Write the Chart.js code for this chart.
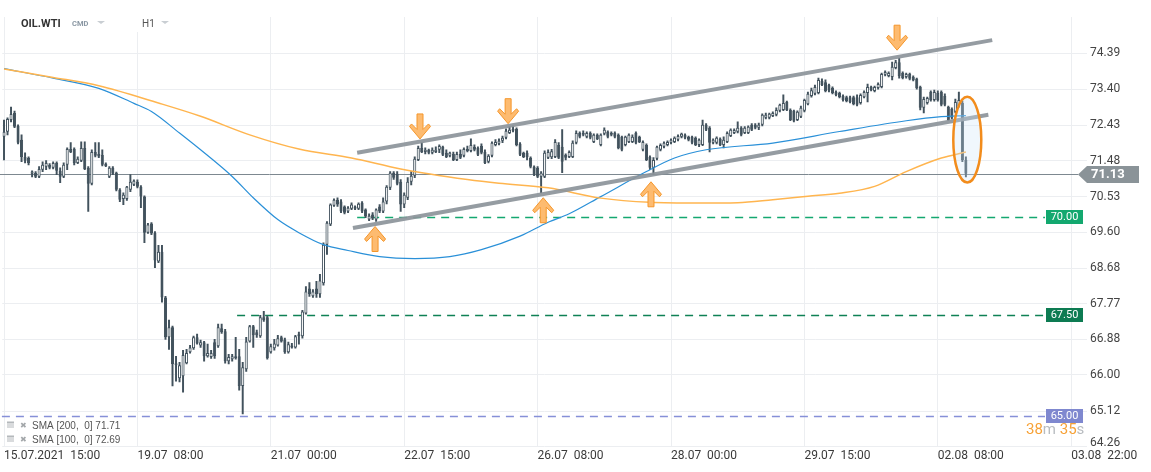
<!DOCTYPE html>
<html>
<head>
<meta charset="utf-8">
<script src="https://cdn.jsdelivr.net/npm/chart.js"></script>
<style>
  html, body { margin: 0; padding: 0; background: #fff; }
  #wrap { width: 1151px; height: 472px; }
</style>
</head>
<body>
<div id="wrap"><canvas id="oilChart" width="1151" height="472"></canvas></div>
<script>
// OIL.WTI, H1 candles from 15.07.2021 15:00 to 02.08.2021
var opens = [
  72.12,72.25,72.57,72.76,72.41,72.04,71.58,71.56,71.13,71.16,
  71.05,71.24,71.32,71.37,71.29,71.42,71.21,71.05,71.37,71.79,
  71.79,71.42,71.48,71.82,71.29,70.87,71.71,71.66,71.63,71.40,
  71.05,71.29,71.16,70.71,70.47,70.47,70.71,70.84,70.92,70.79,
  70.53,69.59,69.83,69.59,68.85,69.10,67.93,66.93,67.18,66.29,
  65.92,65.97,66.29,66.56,66.66,66.93,66.73,66.81,66.46,66.44,
  66.81,66.71,67.16,67.08,66.34,66.39,66.41,66.46,65.73,66.14,
  66.83,67.21,67.06,66.96,67.43,67.43,66.56,66.66,66.73,66.93,
  66.88,66.56,66.68,66.68,66.96,66.96,67.53,68.16,67.96,68.16,
  68.01,68.29,69.28,69.80,70.29,70.45,70.40,70.27,70.14,70.21,
  70.27,70.21,70.37,70.19,69.93,70.06,69.93,70.27,70.14,70.40,
  70.76,71.16,71.13,70.92,70.32,70.50,70.92,71.08,71.50,71.82,
  71.71,71.77,71.69,71.71,71.77,71.85,71.69,71.61,71.66,71.50,
  71.66,71.61,71.79,71.74,71.85,71.82,71.87,71.71,71.45,71.61,
  71.90,71.93,72.01,72.09,72.22,72.28,72.33,71.93,71.69,71.69,
  71.56,71.32,71.29,71.05,71.05,71.56,71.57,71.58,71.90,71.85,
  71.64,71.58,71.58,71.96,72.22,72.17,72.12,72.22,71.98,72.17,
  71.90,72.20,72.25,72.17,72.22,72.17,72.12,71.90,71.98,71.98,
  72.22,72.12,71.77,71.90,71.58,71.29,71.53,71.77,71.85,71.90,
  71.96,71.98,72.04,72.12,72.17,72.12,72.12,72.09,71.90,71.90,
  72.44,72.36,71.96,71.96,72.06,71.90,71.98,72.14,72.22,72.25,
  72.36,72.22,72.22,72.44,72.44,72.36,72.44,72.63,72.63,72.68,
  72.71,72.82,72.84,73.06,72.84,72.82,72.57,72.66,72.82,73.00,
  73.22,73.28,73.30,73.63,73.60,73.53,73.44,73.33,73.30,73.22,
  73.19,73.19,73.19,73.19,73.03,73.19,73.30,73.47,73.36,73.44,
  73.47,73.80,73.77,73.74,73.99,74.15,73.85,73.74,73.82,73.74,
  73.69,73.47,72.90,73.03,73.33,73.11,73.30,73.33,73.22,72.92,
  72.87,72.79,72.95,73.03,71.50
];
var highs = [
  72.57,72.63,72.92,72.81,72.44,72.17,71.69,71.58,71.21,71.19,
  71.32,71.45,71.48,71.40,71.45,71.45,71.29,71.42,71.82,71.96,
  71.82,71.58,71.98,71.98,71.32,71.77,71.96,71.96,71.77,71.42,
  71.32,71.32,71.18,70.74,70.63,70.80,71.11,70.97,70.97,70.82,
  70.55,69.83,69.85,69.62,69.26,69.26,67.96,67.36,67.21,66.46,
  66.31,66.61,66.63,66.73,66.96,67.01,66.86,66.83,66.76,66.61,
  66.88,67.26,67.26,67.13,66.51,66.51,66.93,66.63,66.31,66.93,
  67.23,67.23,67.11,67.48,67.58,67.46,66.76,66.88,66.98,66.96,
  66.91,66.81,66.78,66.98,67.06,67.61,68.21,68.31,68.13,68.34,
  68.52,69.33,69.88,70.34,70.47,70.50,70.45,70.29,70.27,70.37,
  70.29,70.37,70.40,70.21,70.08,70.11,70.21,70.32,70.50,70.82,
  71.19,71.19,71.19,70.98,70.63,71.03,71.19,71.58,71.87,71.96,
  71.82,71.79,71.82,71.85,71.90,71.87,71.77,71.71,71.71,71.71,
  71.77,71.82,71.87,72.06,71.90,71.85,71.93,71.77,71.64,71.98,
  72.04,72.06,72.14,72.33,72.39,72.41,72.36,71.96,71.71,71.74,
  71.58,71.34,71.32,71.19,71.74,71.77,71.78,72.04,71.96,72.31,
  71.66,71.74,72.01,72.28,72.25,72.28,72.25,72.25,72.20,72.20,
  72.20,72.36,72.28,72.25,72.25,72.20,72.14,72.14,72.20,72.17,
  72.25,72.14,72.01,71.93,71.61,71.56,71.87,71.93,71.98,72.01,
  72.06,72.12,72.17,72.22,72.20,72.14,72.14,72.12,72.06,72.57,
  72.47,72.39,72.06,72.12,72.09,72.12,72.25,72.33,72.33,72.52,
  72.39,72.39,72.41,72.47,72.47,72.49,72.74,72.76,72.76,72.79,
  72.90,73.00,73.25,73.08,72.87,72.84,72.82,72.95,73.14,73.33,
  73.44,73.52,73.71,73.69,73.66,73.55,73.47,73.36,73.33,73.25,
  73.22,73.22,73.22,73.25,73.28,73.36,73.55,73.49,73.49,73.58,
  73.85,73.91,73.88,74.15,74.20,74.26,73.88,73.85,73.85,73.77,
  73.71,73.49,73.19,73.19,73.36,73.38,73.36,73.36,73.28,72.95,
  72.90,73.14,73.33,73.08,71.58
];
var lows = [
  71.50,72.17,72.52,72.36,71.93,71.45,71.42,71.37,71.05,71.03,
  71.03,71.19,71.24,71.26,71.26,71.11,70.90,71.03,71.24,71.69,
  71.37,71.40,71.45,71.24,70.14,70.84,71.58,71.56,71.34,71.32,
  71.03,71.11,70.68,70.40,70.32,70.43,70.66,70.82,70.76,70.24,
  69.33,69.57,69.54,68.69,68.82,67.81,66.88,66.63,65.73,65.85,
  65.83,65.58,66.27,66.54,66.63,66.76,66.68,66.34,66.44,66.41,
  66.41,66.68,67.03,66.29,66.27,66.34,66.39,65.63,65.05,66.09,
  66.81,66.68,66.93,66.93,67.33,66.39,66.54,66.61,66.71,66.81,
  66.53,66.54,66.66,66.66,66.76,66.91,67.51,67.96,67.93,67.93,
  67.93,68.24,69.03,69.77,70.27,70.27,70.11,70.08,70.11,70.19,
  70.19,70.19,70.11,69.98,69.90,69.93,69.88,70.11,70.11,70.34,
  70.71,70.98,70.84,70.14,70.24,70.45,70.84,71.03,71.48,71.69,
  71.66,71.66,71.66,71.69,71.69,71.61,71.56,71.58,71.48,71.48,
  71.53,71.58,71.71,71.71,71.74,71.61,71.66,71.40,71.42,71.58,
  71.87,71.90,71.96,72.06,72.20,72.25,71.87,71.61,71.56,71.50,
  71.29,71.08,71.03,70.63,71.03,71.53,71.53,71.56,71.53,71.16,
  71.50,71.56,71.56,71.93,72.09,72.14,72.09,72.06,71.96,72.04,
  71.87,72.17,72.09,72.14,72.09,71.79,71.74,71.87,71.96,71.96,
  71.93,71.96,71.74,71.48,71.24,71.11,71.50,71.74,71.82,71.87,
  71.93,71.96,72.01,72.09,72.06,72.01,71.93,71.88,71.85,71.88,
  72.28,71.71,71.93,71.93,71.88,71.82,71.96,72.12,72.20,72.22,
  72.14,72.20,72.20,72.28,72.33,72.31,72.41,72.60,72.60,72.66,
  72.68,72.79,72.82,72.82,72.55,72.52,72.55,72.63,72.79,72.98,
  73.19,73.25,73.28,73.50,73.33,73.33,73.28,73.22,73.17,73.08,
  73.06,73.03,72.98,72.95,73.00,73.17,73.06,73.36,73.33,73.41,
  73.44,73.77,73.74,73.66,73.96,73.71,73.69,73.71,73.66,73.63,
  73.41,72.84,72.76,73.00,73.08,73.08,73.08,72.95,72.95,72.55,
  72.60,72.76,72.92,71.45,71.05
];
var closes = [
  72.25,72.60,72.73,72.39,71.96,71.58,71.48,71.42,71.19,71.05,
  71.26,71.37,71.42,71.29,71.42,71.21,71.05,71.37,71.79,71.71,
  71.42,71.53,71.82,71.26,70.87,71.71,71.61,71.59,71.37,71.34,
  71.29,71.13,70.71,70.45,70.58,70.79,70.92,70.95,70.79,70.53,
  69.59,69.80,69.57,68.87,69.10,67.93,66.93,67.18,66.27,66.24,
  66.24,66.49,66.54,66.68,66.93,66.78,66.81,66.46,66.54,66.54,
  66.46,67.18,67.06,66.34,66.44,66.46,66.46,65.73,66.19,66.83,
  67.21,66.98,66.98,67.43,67.36,66.41,66.71,66.78,66.91,66.83,
  66.56,66.76,66.73,66.96,67.01,67.58,68.08,68.01,68.08,68.01,
  68.36,69.28,69.85,70.32,70.45,70.32,70.14,70.11,70.24,70.32,
  70.21,70.34,70.14,70.01,70.03,69.96,70.19,70.14,70.40,70.79,
  71.16,71.03,70.87,70.32,70.58,70.92,71.08,71.53,71.82,71.71,
  71.77,71.69,71.77,71.77,71.87,71.64,71.58,71.69,71.50,71.66,
  71.56,71.79,71.74,71.90,71.77,71.64,71.69,71.42,71.61,71.96,
  71.98,72.01,72.09,72.28,72.31,72.33,71.90,71.64,71.58,71.58,
  71.32,71.11,71.05,71.16,71.69,71.71,71.73,71.98,71.56,71.45,
  71.56,71.71,71.96,72.22,72.12,72.22,72.22,72.09,72.17,72.06,
  72.17,72.31,72.12,72.22,72.12,71.82,71.77,72.12,72.17,72.12,
  71.96,71.98,71.98,71.50,71.29,71.50,71.85,71.90,71.96,71.98,
  72.04,72.09,72.14,72.20,72.09,72.04,71.96,71.90,72.04,72.44,
  72.31,71.96,72.04,72.09,71.90,72.04,72.22,72.31,72.30,72.36,
  72.17,72.36,72.39,72.31,72.36,72.44,72.71,72.71,72.74,72.76,
  72.84,72.98,73.03,72.84,72.57,72.55,72.79,72.90,73.11,73.28,
  73.38,73.47,73.66,73.52,73.36,73.37,73.30,73.25,73.19,73.11,
  73.08,73.06,73.00,72.98,73.25,73.33,73.47,73.38,73.47,73.55,
  73.82,73.88,73.85,74.02,74.15,73.77,73.71,73.82,73.69,73.66,
  73.44,72.90,73.14,73.17,73.11,73.33,73.11,72.98,72.98,72.57,
  72.63,73.06,73.11,71.50,71.13
];

// time axis: candle index of each label
var tickIdx = [0, 38, 76, 114, 152, 190, 228, 266, 304];
var tickText = ['15.07.2021  15:00', '19.07  08:00', '21.07  00:00', '22.07  15:00', '26.07  08:00',
                '28.07  00:00', '29.07  15:00', '02.08  08:00', '03.08  22:00'];
var priceTicks = [74.39, 73.40, 72.43, 71.48, 70.53, 69.60, 68.68, 67.77, 66.88, 66.00, 65.12, 64.26];

// moving averages
var sma200Idx = [0, 14, 27, 44, 56, 70, 84, 99, 113, 132, 141, 155, 170, 184, 198, 209, 219, 229, 238, 248, 257, 267, 274];
var sma200Val = [73.96, 73.73, 73.50, 73.03, 72.67, 72.17, 71.79, 71.55, 71.26, 70.98, 70.88, 70.76, 70.49, 70.38, 70.36, 70.37, 70.45, 70.54, 70.62, 70.80, 71.19, 71.55, 71.71];
var sma100Idx = [0, 14, 27, 37, 42, 50, 56, 65, 71, 78, 84, 91, 98, 107, 117, 127, 136, 147, 155, 161, 170, 183, 191, 200, 219, 238, 257, 267, 274];
var sma100Val = [73.97, 73.71, 73.43, 73.02, 72.80, 72.22, 71.77, 71.06, 70.50, 69.93, 69.59, 69.28, 69.13, 68.97, 68.92, 68.97, 69.15, 69.50, 69.86, 70.08, 70.53, 71.19, 71.55, 71.77, 71.95, 72.26, 72.55, 72.66, 72.69];

var lastPrice = 71.13;
var levelPrices = [70.00, 67.50, 65.00];
var levelStart = [100.6, 66.4, -0.6];
var levelColors = ['#14a870', '#0f8155', '#8690d8'];
var levelBoxColors = ['#13a86f', '#0d7b52', '#7f88cf'];

// channel lines: [candle index, price]
var channelUpper = [[100.6, 71.69], [281.5, 74.76]];
var channelLower = [[99.4, 69.71], [280.4, 72.71]];

var arrowsDown = [[118.5, 72.06], [143.6, 72.47], [254.4, 74.48]];
var arrowsUp = [[105.7, 69.75], [153.6, 70.50], [184.3, 70.92]];

var focusIdx = 274.4;
var focusTop = 73.20;
var focusBottom = 70.90;

var candleColor = '#42525d';

function drawArrow(ctx, cx, tipY, dir) {
  var pts = [[0, 0], [10.5, 12.5], [8.5, 15], [3, 9.5], [3, 25], [-3, 25], [-3, 9.5], [-8.5, 15], [-10.5, 12.5]];
  ctx.beginPath();
  pts.forEach(function(p, k) {
    var px = cx + p[0], py = tipY - dir * p[1];
    if (k === 0) ctx.moveTo(px, py); else ctx.lineTo(px, py);
  });
  ctx.closePath();
  ctx.fillStyle = '#fdbb70';
  ctx.fill();
  ctx.strokeStyle = '#f5962a';
  ctx.lineWidth = 1;
  ctx.stroke();
}

var overlayPlugin = {
  id: 'overlay',
  beforeDatasetsDraw: function(chart) {
    var ctx = chart.ctx, xs = chart.scales.x, ys = chart.scales.y, area = chart.chartArea;
    ctx.save();
    ctx.lineWidth = 1.3;
    ctx.setLineDash([8, 6]);
    levelPrices.forEach(function(p, k) {
      var y = Math.round(ys.getPixelForValue(p)) + 0.5;
      ctx.strokeStyle = levelColors[k];
      ctx.beginPath();
      ctx.moveTo(xs.getPixelForValue(levelStart[k]), y);
      ctx.lineTo(area.right - 42, y);
      ctx.stroke();
    });
    ctx.setLineDash([]);
    ctx.lineWidth = 1;
    var yl = Math.round(ys.getPixelForValue(lastPrice)) + 0.5;
    ctx.strokeStyle = '#7d8890';
    ctx.beginPath();
    ctx.moveTo(0, yl);
    ctx.lineTo(area.right - 9, yl);
    ctx.stroke();
    ctx.restore();
  },
  afterDatasetsDraw: function(chart) {
    var ctx = chart.ctx, xs = chart.scales.x, ys = chart.scales.y, area = chart.chartArea;
    ctx.save();

    ctx.strokeStyle = 'rgba(140,148,154,0.92)';
    ctx.lineWidth = 4;
    [channelUpper, channelLower].forEach(function(seg) {
      ctx.beginPath();
      ctx.moveTo(xs.getPixelForValue(seg[0][0]), ys.getPixelForValue(seg[0][1]));
      ctx.lineTo(xs.getPixelForValue(seg[1][0]), ys.getPixelForValue(seg[1][1]));
      ctx.stroke();
    });

    arrowsDown.forEach(function(a) { drawArrow(ctx, xs.getPixelForValue(a[0]), ys.getPixelForValue(a[1]), 1); });
    arrowsUp.forEach(function(a) { drawArrow(ctx, xs.getPixelForValue(a[0]), ys.getPixelForValue(a[1]), -1); });

    var ex = xs.getPixelForValue(focusIdx);
    var et = ys.getPixelForValue(focusTop), eb = ys.getPixelForValue(focusBottom);
    ctx.beginPath();
    ctx.ellipse(ex, (et + eb) / 2, 14, (eb - et) / 2, 0, 0, Math.PI * 2);
    ctx.fillStyle = 'rgba(205,228,247,0.3)';
    ctx.fill();
    ctx.strokeStyle = '#f28c1c';
    ctx.lineWidth = 2.5;
    ctx.stroke();

    // level tags
    ctx.textAlign = 'center';
    ctx.textBaseline = 'middle';
    ctx.font = '11px Roboto';
    levelPrices.forEach(function(p, k) {
      var y = Math.round(ys.getPixelForValue(p));
      ctx.fillStyle = levelBoxColors[k];
      ctx.fillRect(area.right - 41, y - 7, 37, 14);
      ctx.fillStyle = '#ffffff';
      ctx.fillText(p.toFixed(2), area.right - 22.5, y + 0.5);
    });

    // last price tag
    var yl = Math.round(ys.getPixelForValue(lastPrice)) + 0.5;
    ctx.fillStyle = '#8a9398';
    ctx.beginPath();
    ctx.moveTo(area.right - 9, yl);
    ctx.lineTo(area.right, yl - 8.5);
    ctx.lineTo(area.right + 52, yl - 8.5);
    ctx.lineTo(area.right + 52, yl + 8.5);
    ctx.lineTo(area.right, yl + 8.5);
    ctx.closePath();
    ctx.fill();
    ctx.fillStyle = '#ffffff';
    ctx.font = 'bold 13px Roboto';
    ctx.textAlign = 'left';
    ctx.fillText(lastPrice.toFixed(2), area.right + 4, yl + 0.5);

    // bottom price label sits just above the axis edge
    ctx.fillStyle = '#444444';
    ctx.font = '12px Roboto';
    ctx.fillText(priceTicks[priceTicks.length - 1].toFixed(2), area.right + 3, area.bottom - 4);
    ctx.restore();
  },
  afterDraw: function(chart) {
    var ctx = chart.ctx, area = chart.chartArea;
    ctx.save();
    // header
    ctx.fillStyle = '#ffffff';
    ctx.fillRect(128, 12, 50, 20);
    ctx.textBaseline = 'alphabetic';
    ctx.textAlign = 'left';
    ctx.fillStyle = '#333333';
    ctx.font = 'bold 11px Roboto';
    ctx.fillText('OIL.WTI', 21, 27);
    ctx.fillStyle = '#8a97a3';
    ctx.font = 'bold 7.5px Roboto';
    ctx.fillText('CMD', 72, 26);
    ctx.fillStyle = '#555555';
    ctx.font = '10px Roboto';
    ctx.fillText('H1', 142, 27);
    ctx.fillStyle = '#c9ced3';
    [[97, 21], [161, 21]].forEach(function(t) {
      ctx.beginPath();
      ctx.moveTo(t[0], t[1]);
      ctx.lineTo(t[0] + 8, t[1]);
      ctx.lineTo(t[0] + 4, t[1] + 3);
      ctx.closePath();
      ctx.fill();
    });

    // indicator legend
    var rows = [['SMA [200,  0] ' + sma200Val[sma200Val.length - 1].toFixed(2), 425.5],
                ['SMA [100,  0] ' + sma100Val[sma100Val.length - 1].toFixed(2), 439.5]];
    rows.forEach(function(r) {
      var y = r[1];
      ctx.fillStyle = '#b4b8bb';
      ctx.fillRect(7, y - 4, 7, 2);
      ctx.fillRect(7, y - 1, 7, 1);
      ctx.fillRect(7, y + 1, 7, 1);
      ctx.fillStyle = '#a3a7aa';
      ctx.font = 'bold 8px "DejaVu Sans"';
      ctx.textBaseline = 'middle';
      ctx.fillText('\u2716', 20, y);
      ctx.fillStyle = '#555555';
      ctx.font = '10px "Liberation Sans"';
      ctx.fillText(r[0], 32, y + 0.5);
    });

    // candle countdown
    var parts = [['38', '#f7a237'], ['m', '#b8bcc0'], [' 35', '#f7a237'], ['s', '#b8bcc0']];
    ctx.font = '15px Roboto';
    ctx.textBaseline = 'alphabetic';
    var cx = area.right - 61;
    parts.forEach(function(p) {
      ctx.fillStyle = p[1];
      ctx.fillText(p[0], cx, area.bottom - 13);
      cx += ctx.measureText(p[0]).width;
    });
    ctx.restore();
  }
};

Chart.defaults.font.family = 'Roboto, "Liberation Sans", sans-serif';

var bodies = opens.map(function(o, i) { return { x: i, y: [o, closes[i]] }; });
var wicks = lows.map(function(l, i) { return { x: i, y: [l, highs[i]] }; });
var bodyFill = opens.map(function(o, i) { return closes[i] >= o ? '#ffffff' : candleColor; });
var sma200 = sma200Idx.map(function(x, k) { return { x: x, y: sma200Val[k] }; });
var sma100 = sma100Idx.map(function(x, k) { return { x: x, y: sma100Val[k] }; });

var ctx = document.getElementById('oilChart').getContext('2d');
var chart = new Chart(ctx, {
  type: 'bar',
  data: {
    datasets: [
      { type: 'line', data: sma200, borderColor: '#ffb54f', borderWidth: 1.5, pointRadius: 0,
        cubicInterpolationMode: 'monotone', order: 0 },
      { type: 'line', data: sma100, borderColor: '#2a90d8', borderWidth: 1.2, pointRadius: 0,
        cubicInterpolationMode: 'monotone', order: 0 },
      { type: 'bar', data: bodies, backgroundColor: bodyFill, borderColor: candleColor, borderWidth: 1,
        borderSkipped: false, grouped: false, barPercentage: 0.88, categoryPercentage: 1,
        minBarLength: 1, order: 1 },
      { type: 'bar', data: wicks, backgroundColor: candleColor, borderWidth: 0, grouped: false,
        barPercentage: 1, categoryPercentage: 1, maxBarThickness: 1.3, order: 2 }
    ]
  },
  options: {
    responsive: false,
    animation: false,
    events: [],
    devicePixelRatio: 1,
    layout: { padding: { left: 2.25, top: 17, right: 0, bottom: 0 } },
    plugins: { legend: { display: false }, tooltip: { enabled: false } },
    scales: {
      x: {
        type: 'linear', min: -0.5, max: 308.5, offset: false,
        afterBuildTicks: function(s) { s.ticks = tickIdx.map(function(v) { return { value: v }; }); },
        afterFit: function(s) { s.height = 25; },
        ticks: {
          autoSkip: false, maxRotation: 0, minRotation: 0, align: 'start', padding: 2,
          color: '#3a3a3a', font: { size: 12 },
          callback: function(v) { var k = tickIdx.indexOf(v); return k < 0 ? '' : tickText[k]; }
        },
        grid: { color: '#eceef1', drawTicks: false, offset: false },
        border: { display: false }
      },
      y: {
        type: 'logarithmic', position: 'right', min: 64.254, max: 75.406,
        afterBuildTicks: function(s) { s.ticks = priceTicks.map(function(v) { return { value: v }; }); },
        afterFit: function(s) { s.width = 64; },
        ticks: {
          padding: 3, color: '#444444', font: { size: 12 },
          // the lowest label is drawn by the overlay, lifted above the bottom edge
          callback: function(v) { return v === priceTicks[priceTicks.length - 1] ? '' : Number(v).toFixed(2); }
        },
        grid: { color: '#eceef1', drawTicks: false },
        border: { display: false }
      }
    }
  },
  plugins: [overlayPlugin]
});
</script>
</body>
</html>
